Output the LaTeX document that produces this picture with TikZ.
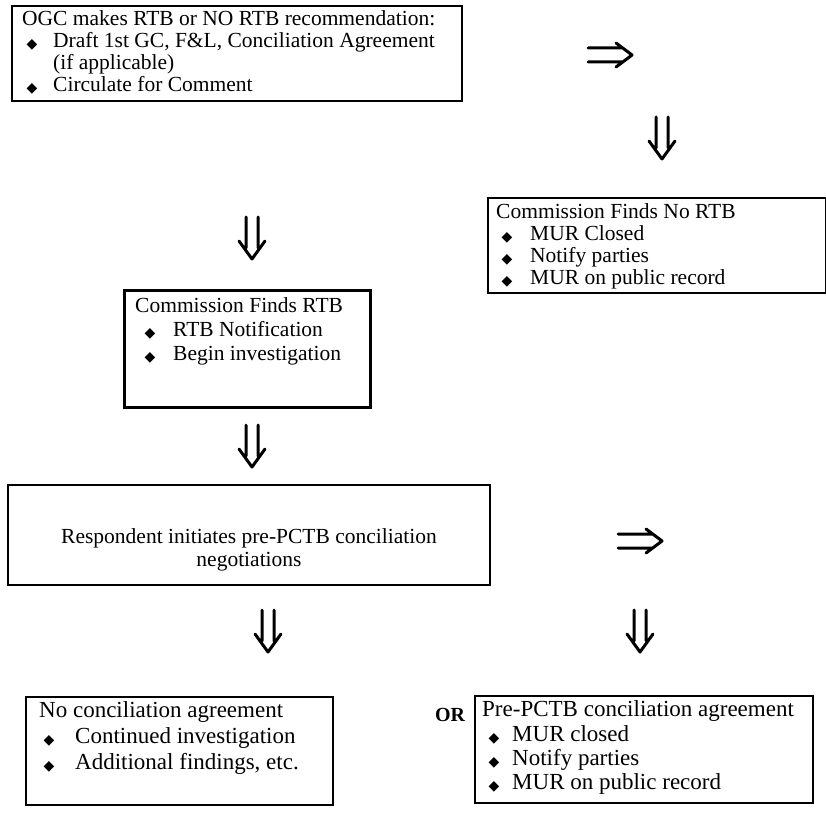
\documentclass[tikz,border=0pt]{standalone}
\usepackage{fontspec}
\usetikzlibrary{fit}
\setmainfont{Liberation Serif}
\newfontfamily\symfont{DejaVu Sans}
\begin{document}
\begin{tikzpicture}[x=1pt,y=-1pt,
  box/.style={draw=black,line width=2pt,inner sep=0pt},
  thickbox/.style={box,line width=3pt},
  txt/.style={anchor=west,inner sep=0pt,text height=0.7em,text depth=0.2em,
    font=\fontsize{21.5}{24}\selectfont},
  big/.style={txt,font=\fontsize{23}{25}\selectfont},
  bul/.style={inner sep=0pt,font=\symfont\fontsize{14}{14}\selectfont},
  flow/.style={line width=3pt,line cap=round,line join=round}]
\useasboundingbox (0,0) rectangle (826,813);

% ---- boxes (corner to corner)
\node[box,fit={(12,6) (462,101)}]   (b1) {};
\node[box,fit={(488,198) (826,293)}] (b2) {};
\node[thickbox,fit={(124,290) (370,407)}] (b3) {};
\node[box,fit={(8,485) (490,585)}] (b4) {};
\node[box,fit={(26,697) (333,805)}] (b5) {};
\node[box,fit={(475,696) (813,803)}] (b6) {};

% ---- box 1
\node[txt] (t1a) at (22,23) {OGC makes RTB or NO RTB recommendation:};
\node[bul] (u1b) at (32,45) {◆};
\node[txt] (t1b) at (53,45) {Draft 1st GC, F\&L, Conciliation Agreement};
\node[txt] (t1c) at (53,67) {(if applicable)};
\node[bul] (u1d) at (32,89) {◆};
\node[txt] (t1d) at (53,89) {Circulate for Comment};

% ---- box 2
\node[txt] (t2a) at (496,216) {Commission Finds No RTB};
\node[bul] (u2b) at (507,238) {◆};
\node[txt] (t2b) at (530,238) {MUR Closed};
\node[bul] (u2c) at (507,260) {◆};
\node[txt] (t2c) at (530,260) {Notify parties};
\node[bul] (u2d) at (507,282) {◆};
\node[txt] (t2d) at (530,282) {MUR on public record};

% ---- box 3
\node[txt] (t3a) at (135,310) {Commission Finds RTB};
\node[bul] (u3b) at (150,334) {◆};
\node[txt] (t3b) at (173,334) {RTB Notification};
\node[bul] (u3c) at (150,358) {◆};
\node[txt] (t3c) at (173,358) {Begin investigation};

% ---- box 4
\node[txt,anchor=center] (t4a) at (249,541) {Respondent initiates pre-PCTB conciliation};
\node[txt,anchor=center] (t4b) at (249,564) {negotiations};

% ---- box 5
\node[big] (t5a) at (39,715) {No conciliation agreement};
\node[bul] (u5b) at (49,741) {◆};
\node[big] (t5b) at (75,741) {Continued investigation};
\node[bul] (u5c) at (49,767) {◆};
\node[big] (t5c) at (75,767) {Additional findings, etc.};

% ---- box 6
\node[big] (t6a) at (482,714) {Pre-PCTB conciliation agreement};
\node[bul] (u6b) at (494,739) {◆};
\node[big] (t6b) at (512,739) {MUR closed};
\node[bul] (u6c) at (494,763) {◆};
\node[big] (t6c) at (512,763) {Notify parties};
\node[bul] (u6d) at (494,787) {◆};
\node[big] (t6d) at (512,787) {MUR on public record};

\node[font=\fontsize{20}{20}\selectfont\bfseries,inner sep=0pt] (or) at (450,715) {OR};

% ---- double-line flow arrows
\foreach \n/\x/\y in {d1/662/138, d2/252/238, d3/252/446, d4/268/631, d5/640/631}{
  \coordinate (\n) at (\x,\y);
  \draw[flow] ([xshift=-6pt,yshift=21pt]\n) -- ([xshift=-6pt,yshift=-10pt]\n)
              ([xshift=6pt,yshift=21pt]\n) -- ([xshift=6pt,yshift=-10pt]\n)
              ([xshift=-13pt,yshift=-3pt]\n) -- ([yshift=-21pt]\n) -- ([xshift=13pt,yshift=-3pt]\n);
}
\foreach \n/\x/\y in {r1/610/55, r2/640/541}{
  \coordinate (\n) at (\x,\y);
  \draw[flow] ([xshift=-22pt,yshift=7pt]\n) -- ([xshift=12pt,yshift=7pt]\n)
              ([xshift=-22pt,yshift=-7pt]\n) -- ([xshift=12pt,yshift=-7pt]\n)
              ([xshift=6pt,yshift=12pt]\n) -- ([xshift=22pt]\n) -- ([xshift=6pt,yshift=-12pt]\n);
}
\end{tikzpicture}
\end{document}
